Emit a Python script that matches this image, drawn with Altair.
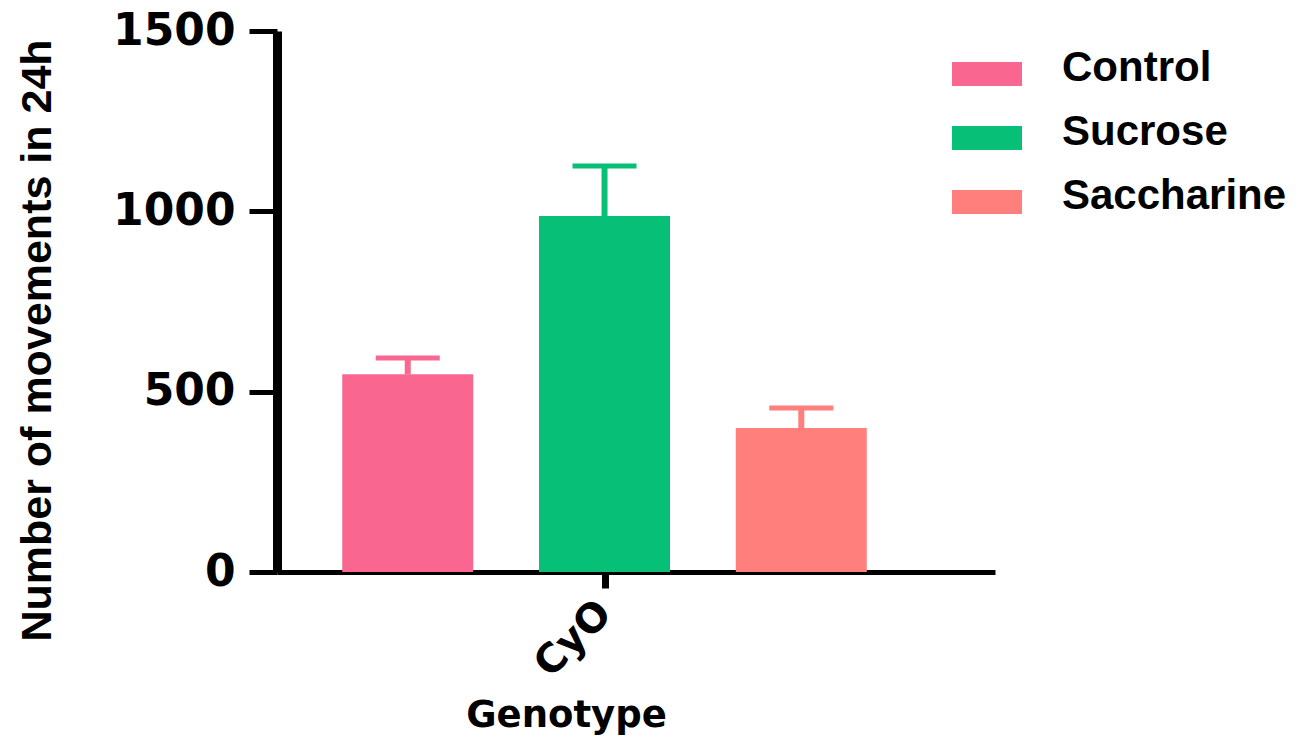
import altair as alt
import pandas as pd

groups = ["Control", "Sucrose", "Saccharine"]
positions = [1, 2, 3]
means = [548, 987, 399]
errors = [45, 139, 56]
colors = ["#F96690", "#08BF78", "#FE7F7C"]
genotype_label = "CyO"
y_ticks = [0, 500, 1000, 1500]

df = pd.DataFrame({
    "group": groups,
    "pos": positions,
    "mean": means,
    "err": errors,
})
df["upper"] = df["mean"] + df["err"]

x_scale = alt.Scale(domain=[0.361, 3.959], nice=False, zero=False)
y_scale = alt.Scale(domain=[0, 1500], nice=False)
color_scale = alt.Scale(domain=groups, range=colors)

x_axis = alt.Axis(
    title="Genotype",
    values=[2],
    labelExpr=f"'{genotype_label}'",
    labelAngle=-45,
    labelAlign="right",
    labelBaseline="middle",
    labelFont="DejaVu Sans",
    labelFontWeight="bold",
    labelFontSize=40,
    labelColor="black",
    labelPadding=19,
    tickSize=16,
    tickWidth=7,
    tickColor="black",
    domainColor="black",
    domainWidth=5,
    grid=False,
    titleFont="DejaVu Sans",
    titleFontWeight="bold",
    titleFontSize=37,
    titleColor="black",
    titleAlign="center",
    titleBaseline="alphabetic",
    titleX=289,
    titleY=154,
)

y_axis = alt.Axis(
    title="Number of movements in 24h",
    values=y_ticks,
    format="d",
    labelFont="DejaVu Sans",
    labelFontWeight="bold",
    labelFontSize=44,
    labelColor="black",
    labelPadding=14,
    tickSize=28,
    tickWidth=5,
    tickColor="black",
    domainColor="black",
    domainWidth=9,
    grid=False,
    titleFont="Liberation Sans",
    titleFontWeight="bold",
    titleFontSize=43,
    titleColor="black",
    titleAngle=-90,
    titleAlign="center",
    titleBaseline="alphabetic",
    titleX=-227,
    titleY=309,
)

legend = alt.Legend(
    title=None,
    orient="none",
    legendX=675,
    legendY=2,
    symbolType="M-1,-0.17L1,-0.17L1,0.516L-1,0.516Z",
    symbolSize=4900,
    symbolStrokeWidth=0,
    symbolOpacity=1,
    labelFont="Liberation Sans",
    labelFontWeight="bold",
    labelFontSize=42,
    labelColor="black",
    labelOffset=40,
    rowPadding=8,
    labelLimit=400,
)

base = alt.Chart(df)
color_enc = alt.Color("group:N", scale=color_scale, sort=groups, legend=legend)

bars = base.mark_bar(size=131).encode(
    x=alt.X("pos:Q", scale=x_scale, axis=x_axis),
    y=alt.Y("mean:Q", scale=y_scale, axis=y_axis),
    color=color_enc,
)

stems = base.mark_rule(strokeWidth=6).encode(
    x="pos:Q",
    y="mean:Q",
    y2="upper:Q",
    color=color_enc,
)

caps = base.mark_tick(orient="horizontal", size=64, thickness=5, opacity=1).encode(
    x="pos:Q",
    y="upper:Q",
    color=color_enc,
)

chart = (
    alt.layer(bars, stems, caps)
    .properties(
        width=718,
        height=541,
        background="white",
        padding={"left": 7, "top": 1, "right": 0, "bottom": 4},
    )
    .configure_view(strokeWidth=0)
)

chart.save("out.html", embed_options={"renderer": "svg", "actions": False})
